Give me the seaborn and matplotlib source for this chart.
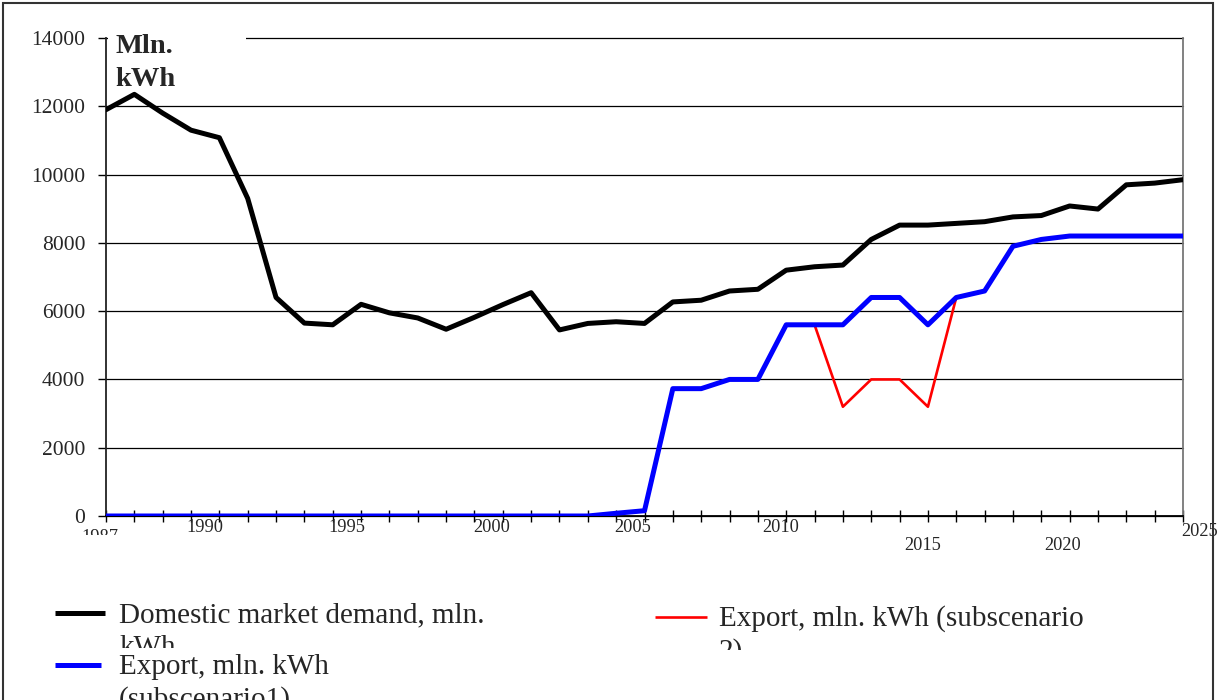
import matplotlib
matplotlib.use("Agg")
import matplotlib.pyplot as plt
import seaborn as sns
import pandas as pd
from matplotlib.patches import Rectangle
from matplotlib.lines import Line2D
from matplotlib.transforms import Bbox, TransformedBbox

# ---- data ----
years = list(range(1987, 2026))
demand = [11900, 12350, 11800, 11300, 11080, 9300, 6400, 5650, 5600, 6200,
          5950, 5800, 5470, 5820, 6190, 6540, 5450, 5640, 5690, 5640,
          6270, 6320, 6590, 6640, 7200, 7300, 7350, 8100, 8520, 8520,
          8570, 8620, 8760, 8800, 9080, 8990, 9700, 9750, 9850]
export1 = [0, 0, 0, 0, 0, 0, 0, 0, 0, 0,
           0, 0, 0, 0, 0, 0, 0, 0, 80, 155,
           3730, 3730, 4000, 4000, 5600, 5600, 5600, 6400, 6400, 5600,
           6400, 6590, 7900, 8100, 8200, 8200, 8200, 8200, 8200]
years2 = [2012, 2013, 2014, 2015, 2016, 2017]
export2 = [5600, 3200, 4000, 4000, 3200, 6400]
label_years = ["1987", "1990", "1995", "2000", "2005", "2010", "2015", "2020", "2025"]
label_pos = [1986.8, 1990.5, 1995.5, 2000.6, 2005.6, 2010.8, 2015.8, 2020.75, 2025.6]
y_ticks = list(range(0, 14001, 2000))
series_names = ["Domestic market demand, mln. kWh",
                "Export, mln. kWh (subscenario1)",
                "Export, mln. kWh (subscenario 2)"]

df1 = pd.DataFrame({"year": years, "value": demand})
df2 = pd.DataFrame({"year": years, "value": export1})
df3 = pd.DataFrame({"year": years2, "value": export2})

sns.set_theme(style="white")
plt.rcParams["font.family"] = ["Liberation Serif", "DejaVu Serif"]

W, H = 1230, 700
fig = plt.figure(figsize=(W / 100, H / 100), dpi=100)
L, R, T, B = 106, 1183, 38, 516
ax = fig.add_axes([L / W, 1 - B / H, (R - L) / W, (B - T) / H])

def fx(px):
    return px / W

def fy(py):
    return 1 - py / H

sns.lineplot(data=df1, x="year", y="value", color="black", lw=3.6, ax=ax, zorder=4)
sns.lineplot(data=df3, x="year", y="value", color="#ff0000", lw=1.9, ax=ax, zorder=4.5)
sns.lineplot(data=df2, x="year", y="value", color="#0000ff", lw=3.6, ax=ax, zorder=5)

ax.set_xlim(1987, 2025)
ax.set_ylim(0, 14000)
ax.set_xlabel("")
ax.set_ylabel("")

ax.set_yticks(y_ticks)
ax.set_yticklabels([str(v) for v in y_ticks], fontsize=15.5)
ax.tick_params(axis="y", direction="out", length=6, width=1, color="black", pad=9,
               left=True)
ax.set_xticks([])
ax.set_xticks(years, minor=True)
ax.tick_params(axis="x", which="minor", direction="inout", length=9, width=1,
               color="black", bottom=True)

ax.set_axisbelow(True)
ax.yaxis.grid(True, color="black", lw=0.9)
for gl in ax.get_ygridlines():
    gl.set_clip_on(False)

ax.spines["top"].set_visible(False)
ax.spines["left"].set_color("#222222")
ax.spines["left"].set_linewidth(1.3)
ax.spines["bottom"].set_color("black")
ax.spines["bottom"].set_linewidth(1.3)
ax.spines["right"].set_color("#777777")
ax.spines["right"].set_linewidth(1.3)

# white box behind the unit label covering the top gridline
ax.add_patch(Rectangle((1987.08, 13850), 4.85, 350, facecolor="white",
                       edgecolor="none", zorder=3, clip_on=False))
ax.text(1987.32, (B - 53) / 0.034143, "Mln.", fontsize=20.5, fontweight="bold",
        va="baseline", ha="left", zorder=6, clip_on=False)
ax.text(1987.32, (B - 86) / 0.034143, "kWh", fontsize=20.5, fontweight="bold",
        va="baseline", ha="left", zorder=6, clip_on=False)

# x labels
xt = ax.get_xaxis_transform()
row_y = {"1987": 537, "2015": 545, "2020": 545, "2025": 531}
for lab, pos in zip(label_years, label_pos):
    py = row_y.get(lab, 527)
    t = ax.text(pos, (B - py) / (B - T), lab, transform=xt, ha="center",
                va="center", fontsize=13.2, clip_on=False)
    if lab == "1987":
        t.set_clip_box(TransformedBbox(Bbox.from_extents(0, fy(535), 1, 1),
                                       fig.transFigure))
        t.set_clip_on(True)

# outer frame
fig.add_artist(Rectangle((fx(3), -0.05), fx(1213) - fx(3), fy(3) + 0.05,
                         transform=fig.transFigure, fill=False,
                         edgecolor="#333333", lw=1.5))

# manual legend (wrapped, clipped entries as in the reference)
def entry(x0, x1, ly, tx, base, l1, l2, clip_y, color, lw):
    fig.add_artist(Line2D([fx(x0), fx(x1)], [fy(ly), fy(ly)], color=color, lw=lw,
                          transform=fig.transFigure, solid_capstyle="butt"))
    fig.text(fx(tx), fy(base), l1, fontsize=21, va="baseline", ha="left")
    t2 = fig.text(fx(tx), fy(base + 33), l2, fontsize=21, va="baseline", ha="left")
    t2.set_clip_box(TransformedBbox(Bbox.from_extents(0, fy(clip_y), 1, 1),
                                    fig.transFigure))
    t2.set_clip_on(True)

entry(55, 105, 613, 119, 622, "Domestic market demand, mln.", "kWh", 648, "black", 3.6)
entry(55, 101, 665, 119, 674, "Export, mln. kWh", "(subscenario1)", 700, "#0000ff", 3.6)
entry(655, 707, 617, 719, 626, "Export, mln. kWh (subscenario", "2)", 650, "#ff0000", 1.9)

fig.savefig("out.png", dpi=100)
